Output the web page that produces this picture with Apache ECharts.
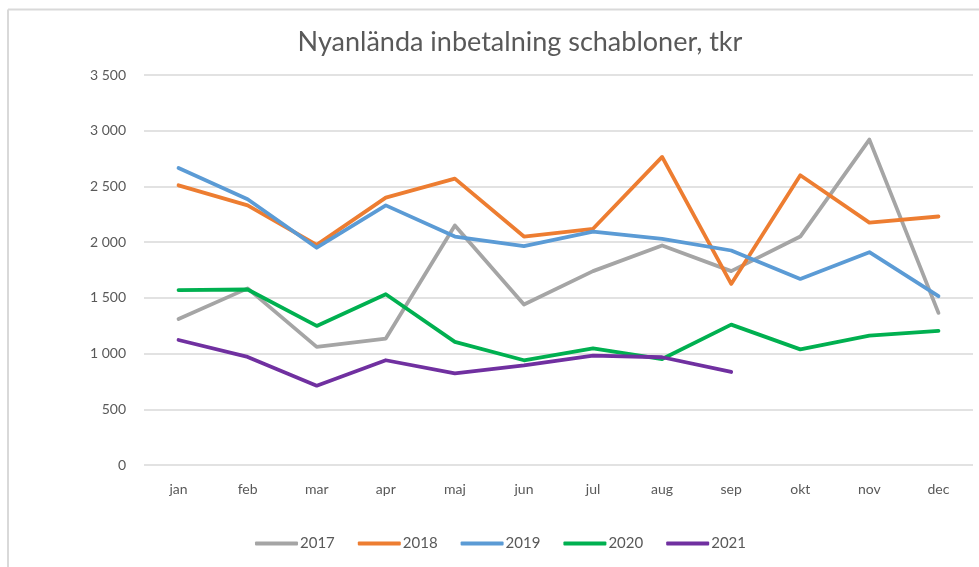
<!DOCTYPE html>
<html>
<head>
<meta charset="utf-8">
<script src="https://cdn.jsdelivr.net/npm/echarts@6/dist/echarts.min.js"></script>
<style>
    html, body { margin: 0; padding: 0; background: #fff; }
    #chart { width: 979px; height: 567px; }
</style>
</head>
<body>
<div id="chart"></div>
<script>
// data (tkr)
var months = ['jan', 'feb', 'mar', 'apr', 'maj', 'jun', 'jul', 'aug', 'sep', 'okt', 'nov', 'dec'];
var years = ['2017', '2018', '2019', '2020', '2021'];
var v2017 = [1310, 1585, 1060, 1135, 2150, 1440, 1740, 1970, 1740, 2050, 2920, 1365];
var v2018 = [2510, 2330, 1975, 2400, 2570, 2050, 2120, 2765, 1625, 2600, 2175, 2230];
var v2019 = [2665, 2385, 1950, 2330, 2050, 1965, 2095, 2030, 1925, 1670, 1910, 1515];
var v2020 = [1570, 1575, 1248, 1532, 1105, 940, 1047, 951, 1260, 1038, 1161, 1203];
var v2021 = [1122, 970, 712, 940, 823, 895, 981, 967, 835];
var yTicks = [0, 500, 1000, 1500, 2000, 2500, 3000, 3500];

var COLORS = ['#a5a5a5', '#ed7d31', '#5b9bd5', '#00b050', '#7030a0'];
var FONT = 'Lato';

var chart = echarts.init(document.getElementById('chart'));

function getSeries() {
    var values = [v2017, v2018, v2019, v2020, v2021];
    return years.map(function(name, idx) {
        return {
            name: name,
            type: 'line',
            data: values[idx],
            symbol: 'none',
            smooth: false,
            lineStyle: { width: 3.8, color: COLORS[idx], cap: 'round', join: 'round' },
            itemStyle: { color: COLORS[idx] }
        };
    });
}

var option = {
    animation: false,
    color: COLORS,
    title: {
        text: 'Nyanlända inbetalning schabloner, tkr',
        left: 515,
        textAlign: 'center',
        top: 24,
        textStyle: { fontFamily: FONT, fontSize: 27, fontWeight: 'normal', color: '#595959' }
    },
    graphic: [
        { type: 'line', shape: { x1: 8, y1: 9.5, x2: 979, y2: 9.5 }, style: { stroke: '#d9d9d9', lineWidth: 2 } },
        { type: 'line', shape: { x1: 8, y1: 9.5, x2: 8, y2: 567 }, style: { stroke: '#d9d9d9', lineWidth: 2 } }
    ],
    legend: {
        data: years,
        bottom: 11,
        left: 250,
        itemWidth: 43,
        itemHeight: 4,
        itemGap: 23,
        icon: 'roundRect',
        textStyle: { fontFamily: FONT, fontSize: 15, color: '#595959', padding: [0, 0, 0, -3] }
    },
    grid: { left: 144, right: 6, top: 75, bottom: 102, containLabel: false },
    xAxis: {
        type: 'category',
        data: months,
        boundaryGap: true,
        axisLine: { show: false },
        axisTick: { show: false },
        axisLabel: { fontFamily: FONT, fontSize: 14, color: '#595959', margin: 17 }
    },
    yAxis: {
        type: 'value',
        min: yTicks[0],
        max: yTicks[yTicks.length - 1],
        interval: 500,
        axisLine: { show: false },
        axisTick: { show: false },
        splitLine: { lineStyle: { color: '#d9d9d9', width: 1.5 } },
        axisLabel: {
            fontFamily: FONT, fontSize: 14, color: '#595959', margin: 18,
            formatter: function(v) {
                return String(v).replace(/\B(?=(\d{3})+(?!\d))/g, ' ');
            }
        }
    },
    series: getSeries()
};

chart.setOption(option);
</script>
</body>
</html>
